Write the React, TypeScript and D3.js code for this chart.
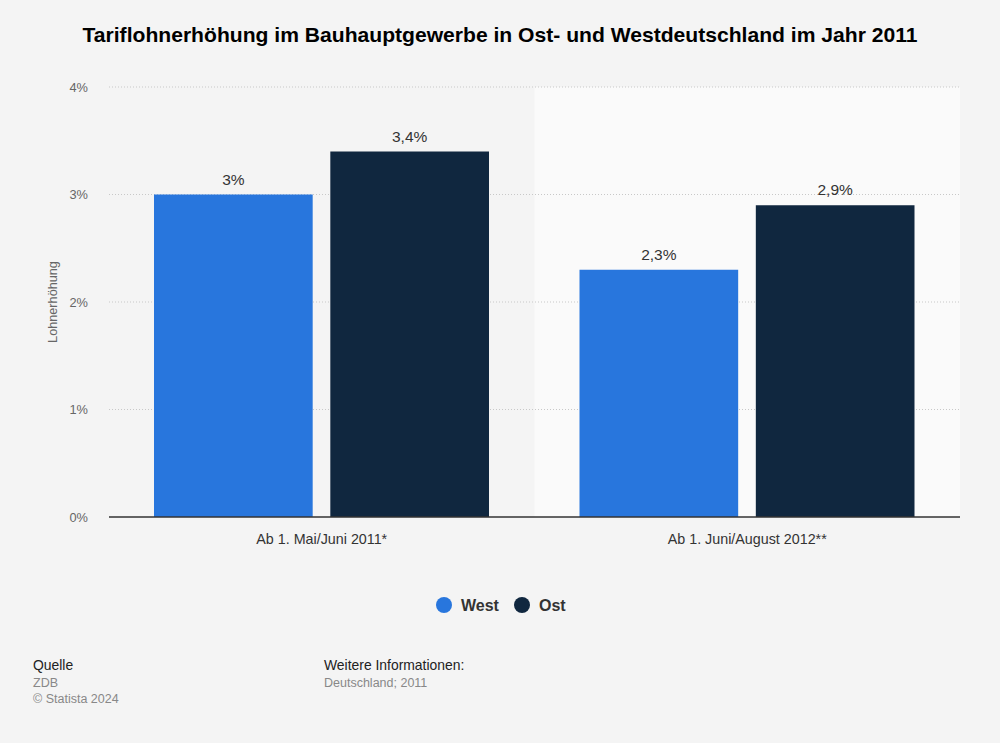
import React from "react";
import * as d3 from "d3";

const categories = ["Ab 1. Mai/Juni 2011*", "Ab 1. Juni/August 2012**"];
const series = ["West", "Ost"];
const westValues = [3.0, 2.3];
const ostValues = [3.4, 2.9];
const valueLabels = [["3%", "2,3%"], ["3,4%", "2,9%"]];
const yTicks = [0, 1, 2, 3, 4];
const colors = ["#2876dd", "#10273f"];

export default function App() {
  const W = 1000, H = 743;
  const left = 109, right = 960, top = 87, bottom = 517;
  const x0 = d3.scaleBand<string>().domain(categories).range([left, right]).paddingInner(0).paddingOuter(0);
  const x1 = d3.scaleBand<string>().domain(series).range([45, 380]).paddingInner(0.1);
  const y = d3.scaleLinear().domain([0, 4]).range([bottom, top]);
  const data = [westValues, ostValues];
  const font = "Arial, 'Liberation Sans', Helvetica, sans-serif";

  return (
    <svg width={W} height={H} style={{ position: "absolute", left: 0, top: 0, background: "#f4f4f4" }} fontFamily={font}>
      <rect x={0} y={0} width={W} height={H} fill="#f4f4f4" />
      <text x={500} y={42} textAnchor="middle" fontSize={20.5} fontWeight="bold" fill="#000" textLength={835} lengthAdjust="spacingAndGlyphs">
        Tariflohnerhöhung im Bauhauptgewerbe in Ost- und Westdeutschland im Jahr 2011
      </text>
      <rect x={x0(categories[1])} y={top} width={x0.bandwidth()} height={bottom - top} fill="#fafafa" />
      {yTicks.map((t) => (
        <g key={t}>
          {t > 0 && (
            <line x1={left} x2={right} y1={y(t)} y2={y(t)} stroke="#c8c8c8" strokeWidth={1} strokeDasharray="1,2" />
          )}
          <text x={88} y={y(t) + 4.5} textAnchor="end" fontSize={12.8} fill="#666">{t}%</text>
        </g>
      ))}
      <text transform={`translate(57,${(top + bottom) / 2}) rotate(-90)`} textAnchor="middle" fontSize={12.7} fill="#666">
        Lohnerhöhung
      </text>
      {categories.map((c, ci) => (
        <g key={c}>
          {series.map((s, si) => {
            const v = data[si][ci];
            const bx = (x0(c) as number) + (x1(s) as number);
            return (
              <g key={s}>
                <rect x={bx} y={y(v)} width={x1.bandwidth()} height={bottom - y(v)} fill={colors[si]} />
                <text x={bx + x1.bandwidth() / 2} y={y(v) - 10} textAnchor="middle" fontSize={15.5} fill="#333">
                  {valueLabels[si][ci]}
                </text>
              </g>
            );
          })}
          <text x={(x0(c) as number) + x0.bandwidth() / 2} y={543.5} textAnchor="middle" fontSize={14.3} fill="#333">{c}</text>
        </g>
      ))}
      <line x1={left} x2={right} y1={bottom} y2={bottom} stroke="#333" strokeWidth={1.5} />
      {series.map((s, i) => {
        const lx = [444, 522][i];
        return (
          <g key={s}>
            <circle cx={lx} cy={605} r={8} fill={colors[i]} />
            <text x={lx + 17} y={611} fontSize={16} fontWeight="bold" fill="#333">{s}</text>
          </g>
        );
      })}
      <text x={33} y={670} fontSize={13.9} fill="#222">Quelle</text>
      <text x={33} y={686.5} fontSize={12.5} fill="#888">ZDB</text>
      <text x={33} y={702.5} fontSize={12.5} fill="#888">© Statista 2024</text>
      <text x={324} y={670} fontSize={13.9} fill="#222">Weitere Informationen:</text>
      <text x={324} y={686.5} fontSize={12.5} fill="#888">Deutschland; 2011</text>
    </svg>
  );
}
